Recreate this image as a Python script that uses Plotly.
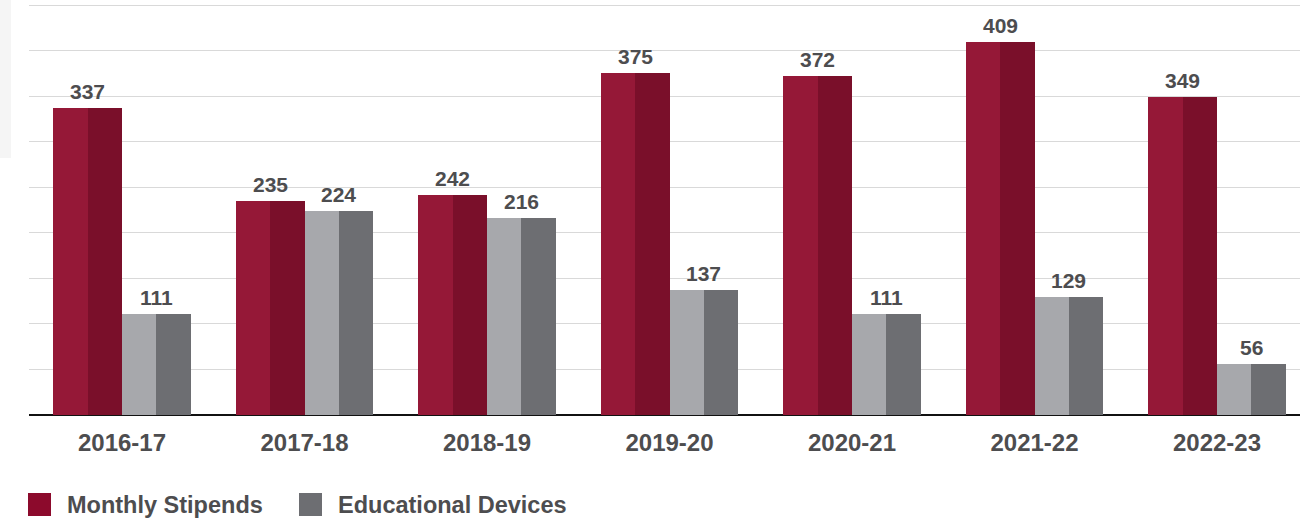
import plotly.graph_objects as go

categories = ["2016-17", "2017-18", "2018-19", "2019-20", "2020-21", "2021-22", "2022-23"]
stipends = [337, 235, 242, 375, 372, 409, 349]
devices = [111, 224, 216, 137, 111, 129, 56]
series_names = ["Monthly Stipends", "Educational Devices"]

x_idx = list(range(len(categories)))
half = 0.1885

fig = go.Figure()
parts = [
    (stipends, -2 * half, "#951837"),
    (stipends, -half, "#7a0f2a"),
    (devices, 0.0, "#a7a8ac"),
    (devices, half, "#6d6e72"),
]
for vals, off, col in parts:
    fig.add_trace(go.Bar(x=x_idx, y=vals, offset=off, width=half,
                         marker=dict(color=col, line=dict(width=0)),
                         showlegend=False, hoverinfo="skip"))

FONT = "Liberation Sans, Arial, Helvetica, sans-serif"
TXT = "#4d4d4f"

for vals, off in [(stipends, -half), (devices, half)]:
    for i, v in zip(x_idx, vals):
        fig.add_annotation(x=i + off, y=v, xref="x", yref="y", text=str(v),
                           showarrow=False, yanchor="bottom", yshift=3,
                           font=dict(family=FONT, size=21, color=TXT, weight="bold"))

# faint panel at the top-left
fig.add_shape(type="rect", xref="paper", yref="paper", xsizemode="pixel", ysizemode="pixel",
              xanchor=0, yanchor=1, x0=-30, x1=-18, y0=-158, y1=0,
              fillcolor="#f5f5f5", line=dict(width=0), layer="below")

# manual legend
legend_cols = ["#8c0a2c", "#6d6e72"]
legend_x = [-1, 270]
for name, col, lx in zip(series_names, legend_cols, legend_x):
    fig.add_shape(type="rect", xref="paper", yref="paper", xsizemode="pixel", ysizemode="pixel",
                  xanchor=0, yanchor=0, x0=lx, x1=lx + 23, y0=-101, y1=-78,
                  fillcolor=col, line=dict(width=0))
    fig.add_annotation(xref="paper", yref="paper", x=0, y=0, xshift=lx + 37, yshift=-90,
                       xanchor="left", yanchor="middle", text=name, showarrow=False,
                       font=dict(family=FONT, size=23.5, color=TXT, weight="bold"))

fig.update_layout(
    width=1306, height=520,
    margin=dict(l=29, r=6, t=0, b=105),
    paper_bgcolor="white", plot_bgcolor="white",
    barmode="overlay", bargap=0,
    showlegend=False,
    font=dict(family=FONT, color=TXT),
)
fig.update_xaxes(range=[(29 - 122) / 182.5, (1300 - 122) / 182.5],
                 tickvals=x_idx, ticktext=categories, ticks="", showgrid=False,
                 zeroline=False, showline=False, ticklabelstandoff=11,
                 tickfont=dict(family=FONT, size=24, color=TXT, weight="bold"))
fig.update_yaxes(range=[0, 455.5], dtick=50, showgrid=True, gridcolor="#d9d9d9", gridwidth=1,
                 showticklabels=False, zeroline=True, zerolinecolor="#111111", zerolinewidth=2,
                 showline=False)

fig.write_html("out.html", config={"displayModeBar": False},
               post_script="document.body.style.margin='0';document.body.style.overflow='hidden';")
